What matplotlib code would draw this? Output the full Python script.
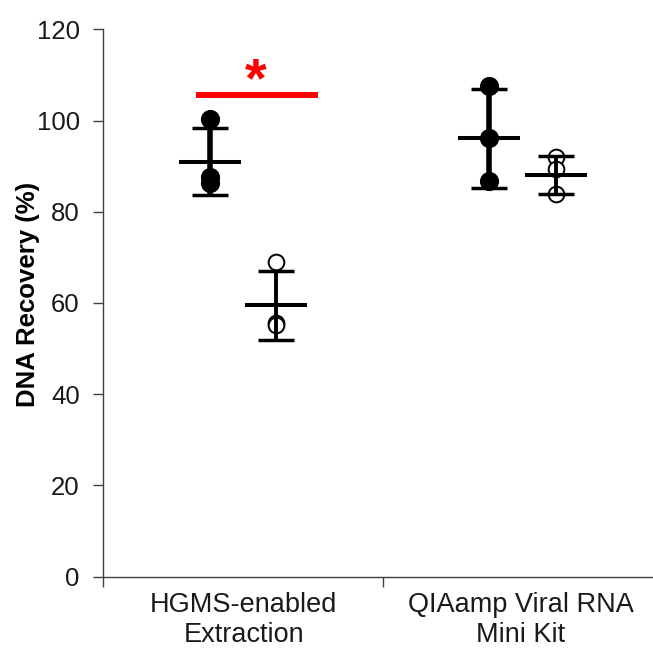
import matplotlib
matplotlib.use("Agg")
import matplotlib.pyplot as plt
import numpy as np

plt.rcParams['font.family'] = ['Liberation Sans', 'DejaVu Sans']

categories = ["HGMS-enabled\nExtraction", "QIAamp Viral RNA\nMini Kit"]
# group positions (category units), filled and open series
x_filled = [0.382, 1.378]
x_open = [0.617, 1.617]
filled_points = [[100.3, 87.7, 86.4], [107.6, 96.1, 86.8]]
open_points = [[68.9, 55.7, 55.2], [92.1, 89.3, 84.0]]
filled_mean = [91.0, 96.1]
filled_sd = [7.4, 10.8]
open_mean = [59.5, 88.1]
open_sd = [7.6, 4.1]
sig_x = [0.330, 0.768]
sig_y = 105.7
star_y = 109.6
yticks = [0, 20, 40, 60, 80, 100, 120]

fig = plt.figure(figsize=(6.53, 6.52), dpi=100)
ax = fig.add_axes([103.3/653, 75.3/652, 549.7/653, 547.4/652])
ax.set_xlim(0, 549.7/280)
ax.set_ylim(0, 120)

for xs, pts, mean, sd, fc, ms, mew, elw in [
    (x_filled, filled_points, filled_mean, filled_sd, 'black', 12.5, 1.3, 4.0),
    (x_open, open_points, open_mean, open_sd, 'white', 11.3, 1.4, 2.8)]:
    for x, p, m, s in zip(xs, pts, mean, sd):
        ax.plot([x]*len(p), p, 'o', ms=ms, mfc=fc, mec='black', mew=mew, zorder=3, clip_on=False)
        ax.errorbar([x], [m], yerr=[s], fmt='none', ecolor='black', elinewidth=elw,
                    capsize=13.3, capthick=2.5, zorder=4)
        ax.plot([x - 0.111, x + 0.111], [m, m], color='black', lw=2.9, zorder=4, solid_capstyle='butt')

ax.plot(sig_x, [sig_y, sig_y], color='#ff0000', lw=4.3, solid_capstyle='butt')
ax.text(np.mean(sig_x) - 0.005, star_y, '*', color='#ff0000', fontsize=40, fontweight='bold',
        ha='center', va='center_baseline')

for sp in ['top', 'right']:
    ax.spines[sp].set_visible(False)
for sp in ['left', 'bottom']:
    ax.spines[sp].set_color('#404040')
    ax.spines[sp].set_linewidth(1.0)

ax.set_yticks(yticks)
ax.set_yticklabels([str(v) for v in yticks], fontsize=18.5, color='#1a1a1a')
ax.tick_params(axis='y', direction='out', length=7, width=1.0, color='#404040', pad=10)
ax.set_xticks([0, 1])
ax.set_xticklabels([])
ax.tick_params(axis='x', direction='out', length=7, width=1.0, color='#404040')
label_x = [0.502, 1.492]
for lx, lab in zip(label_x, categories):
    ax.text(lx, -3.4, lab, fontsize=19.5, color='#1a1a1a', ha='center', va='top',
            transform=ax.transData, linespacing=1.19)

fig.text(28/653, (652-294)/652, 'DNA Recovery (%)', fontsize=18.5, fontweight='bold',
         rotation=90, ha='center', va='center')

fig.savefig('out.png', dpi=100)
